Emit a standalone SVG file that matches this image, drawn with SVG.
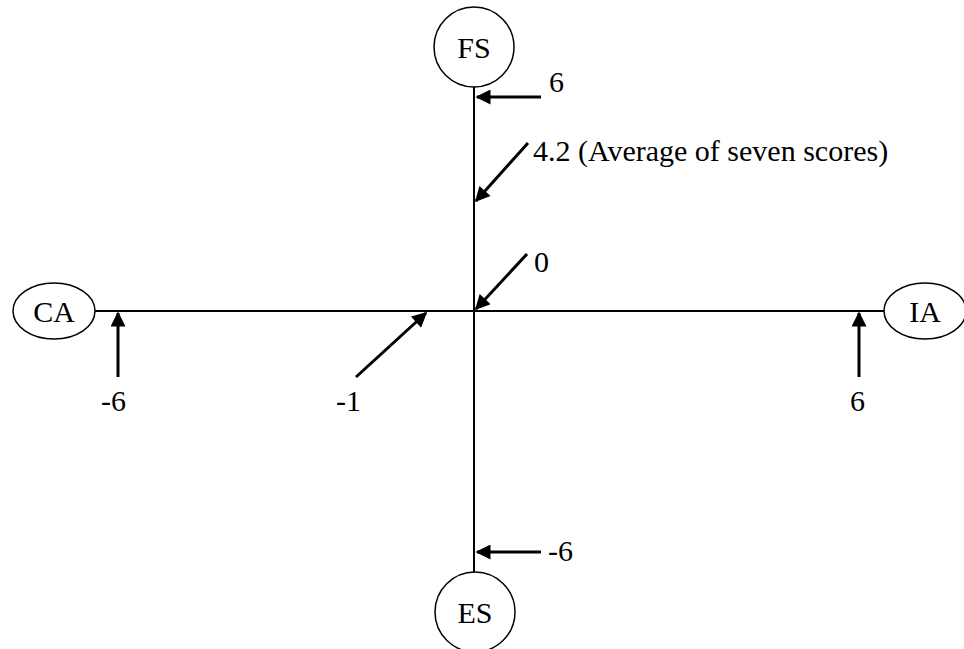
<svg xmlns="http://www.w3.org/2000/svg" width="964" height="649" viewBox="0 0 964 649">
<defs>
<style>
.node{fill:#fff;stroke:#000;stroke-width:1.5}
.axis{stroke:#000;stroke-width:2;fill:none}
.arr{stroke:#000;stroke-width:3;fill:none;marker-end:url(#ah)}
text{font-family:"Liberation Serif","Times New Roman",serif;font-size:30px;fill:#000}
.c{text-anchor:middle;dominant-baseline:central}
</style>
<marker id="ah" viewBox="0 0 10 10" refX="9" refY="5" markerWidth="6" markerHeight="5" markerUnits="strokeWidth" orient="auto">
<path d="M0,0 L10,5 L0,10 z" fill="#000"/>
</marker>
</defs>
<rect width="964" height="649" fill="#fff"/>
<g id="axes">
<line class="axis" x1="474" y1="87" x2="474" y2="572"/>
<line class="axis" x1="95" y1="311" x2="884" y2="311"/>
</g>
<g id="FS"><circle class="node" cx="474" cy="47" r="40"/><text class="c" x="474" y="47">FS</text></g>
<g id="ES"><circle class="node" cx="475" cy="612" r="40"/><text class="c" x="475" y="612">ES</text></g>
<g id="CA"><ellipse class="node" cx="54" cy="311" rx="41" ry="28"/><text class="c" x="54" y="311">CA</text></g>
<g id="IA"><ellipse class="node" cx="925" cy="311" rx="41" ry="28"/><text class="c" x="925" y="311">IA</text></g>
<g id="connectors">
<line class="arr" x1="541" y1="97" x2="477" y2="97"/>
<line class="arr" x1="528" y1="143" x2="476" y2="201"/>
<line class="arr" x1="527" y1="254" x2="476" y2="309"/>
<line class="arr" x1="356" y1="377" x2="426" y2="313"/>
<line class="arr" x1="118" y1="377" x2="118" y2="313"/>
<line class="arr" x1="859" y1="377" x2="859" y2="313"/>
<line class="arr" x1="541" y1="552" x2="477" y2="552"/>
</g>
<g id="labels">
<text x="549" y="92">6</text>
<text x="533" y="161">4.2 (Average of seven scores)</text>
<text x="534" y="272">0</text>
<text x="336" y="411">-1</text>
<text x="101" y="411">-6</text>
<text x="850" y="411">6</text>
<text x="548" y="561">-6</text>
</g>
</svg>
